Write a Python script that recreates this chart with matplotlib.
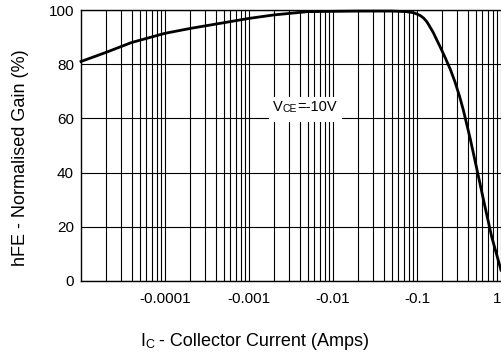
import matplotlib
matplotlib.use("Agg")
import matplotlib.pyplot as plt
from matplotlib.patches import Rectangle
from matplotlib.ticker import LogLocator, NullFormatter

plt.rcParams["font.family"] = ["Liberation Sans", "DejaVu Sans"]

# =========================
# data
# =========================
ic_amps = [1e-5, 2e-5, 4e-5, 1e-4, 2e-4, 5e-4, 1e-3, 2e-3, 5e-3, 0.01, 0.02,
           0.05, 0.075, 0.09, 0.1, 0.11, 0.12, 0.13, 0.14, 0.156, 0.188,
           0.216, 0.25, 0.283, 0.32, 0.356, 0.43, 0.51, 0.645, 0.775, 1.0]
gain_pct = [81, 84.4, 88, 91.4, 93.2, 95.3, 96.9, 98.2, 99.4, 99.5, 99.6,
            99.6, 99.4, 99.0, 98.5, 97.9, 97.0, 95.8, 94.2, 91.7, 86.5,
            82.5, 78, 73.5, 68.3, 63.1, 52.5, 42, 27.4, 16.3, 4]

x_ticks = [1e-4, 1e-3, 1e-2, 1e-1, 1]
x_tick_labels = ["-0.0001", "-0.001", "-0.01", "-0.1", "1"]
y_ticks = [0, 20, 40, 60, 80, 100]

# =========================
# figure
# =========================
W, H = 501, 356
fig = plt.figure(figsize=(W / 100, H / 100), dpi=100)
ax = fig.add_axes([81 / W, (H - 281) / H, 420 / W, 271 / H])

ax.plot(ic_amps, gain_pct, color="black", lw=2.0, zorder=5, clip_on=False,
        solid_joinstyle="round")

ax.set_xscale("log")
ax.set_xlim(1e-5, 1)
ax.set_ylim(0, 100)

ax.xaxis.set_minor_locator(LogLocator(base=10, subs=range(2, 10), numticks=50))
ax.xaxis.set_minor_formatter(NullFormatter())
ax.set_xticks(x_ticks)
ax.set_xticklabels(x_tick_labels)
ax.set_yticks(y_ticks)

ax.grid(True, which="major", axis="both", color="black", lw=0.8)
ax.grid(True, which="minor", axis="x", color="black", lw=0.8)
ax.set_axisbelow(True)

ax.tick_params(axis="both", which="both", length=0, labelsize=11)
ax.tick_params(axis="x", pad=8)
ax.tick_params(axis="y", pad=5)
ax.get_xticklabels()[-1].set_ha("right")

for side in ["left", "top", "bottom"]:
    ax.spines[side].set_linewidth(1.0)
ax.spines["right"].set_visible(False)

# white box behind the V_CE label
ax.add_patch(Rectangle((0.447, 0.585), 0.174, 0.094, transform=ax.transAxes,
                       facecolor="white", edgecolor="none", zorder=3))

t1 = ax.text(0.457, 0.642, "V", transform=ax.transAxes, fontsize=10.5,
             va="center", ha="left", zorder=6)
t2 = ax.annotate("CE", xy=(1, 0), xycoords=t1, fontsize=7.5,
                 va="bottom", ha="left", zorder=6)
ax.annotate("=-10V", xy=(1, 0), xycoords=t2, fontsize=10.5,
            va="bottom", ha="left", zorder=6)

# axis labels
fig.text(21 / W, (H - 158) / H, "hFE - Normalised Gain (%)", rotation=90,
         ha="center", va="center", fontsize=13)

xl1 = fig.text(140 / W, (H - 342) / H, "I", ha="left", va="center", fontsize=13)
xl2 = ax.annotate("C", xy=(1, 0), xycoords=xl1, fontsize=9,
                  va="bottom", ha="left", annotation_clip=False)
ax.annotate(" - Collector Current (Amps)", xy=(1, 0), xycoords=xl2,
            fontsize=13, va="bottom", ha="left", annotation_clip=False)

plt.savefig("out.png", dpi=100)
